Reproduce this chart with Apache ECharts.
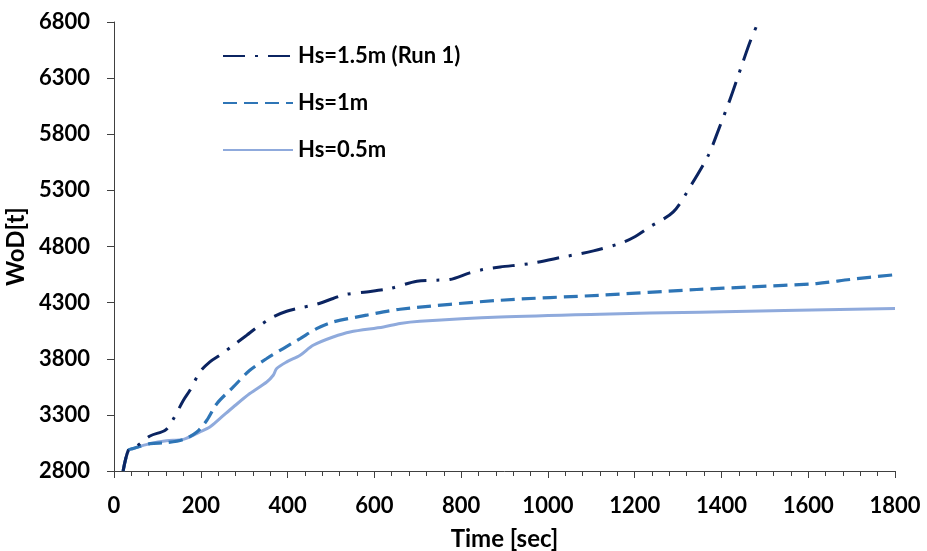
<!DOCTYPE html>
<html><head><meta charset="utf-8">
<script src="https://cdn.jsdelivr.net/npm/echarts@6/dist/echarts.min.js"></script>
<style>html,body{margin:0;padding:0;background:#fff}#c{width:927px;height:551px}</style>
</head><body><div id="c"></div>
<script>
const seriesNames = ['Hs=1.5m (Run 1)', 'Hs=1m', 'Hs=0.5m'];
const xTicks = [0, 200, 400, 600, 800, 1000, 1200, 1400, 1600, 1800];
const yTicks = [2800, 3300, 3800, 4300, 4800, 5300, 5800, 6300, 6800];

const timeRun1 = [21, 33, 44, 60, 83, 118, 133, 160, 175, 198, 221, 244, 275, 306, 329, 367, 398, 429, 467, 505, 532, 582, 636, 698, 744, 774, 820, 851, 890, 959, 1036, 1105, 1170, 1197, 1235, 1289, 1331, 1370, 1393, 1420, 1447, 1466, 1485];
const wodRun1  = [2800, 2984, 3000, 3044, 3112, 3163, 3237, 3430, 3519, 3682, 3772, 3831, 3920, 4010, 4078, 4173, 4223, 4253, 4286, 4337, 4372, 4395, 4425, 4491, 4500, 4506, 4565, 4595, 4618, 4648, 4707, 4761, 4832, 4880, 4975, 5108, 5352, 5614, 5837, 6113, 6415, 6624, 6800];

const timeHs1 = [21, 33, 44, 83, 121, 160, 191, 214, 237, 275, 313, 352, 390, 429, 467, 505, 582, 659, 890, 1120, 1343, 1466, 1619, 1696, 1800];
const wodHs1  = [2800, 2984, 3000, 3044, 3052, 3080, 3148, 3252, 3400, 3549, 3697, 3802, 3891, 3980, 4069, 4128, 4188, 4241, 4321, 4366, 4417, 4440, 4470, 4506, 4549];

const timeHs05 = [21, 33, 44, 83, 121, 160, 198, 221, 244, 275, 313, 352, 367, 375, 398, 429, 459, 505, 544, 621, 659, 705, 890, 1120, 1350, 1800];
const wodHs05  = [2800, 2984, 3000, 3044, 3070, 3082, 3148, 3192, 3267, 3370, 3490, 3593, 3653, 3713, 3772, 3831, 3920, 3994, 4039, 4083, 4114, 4134, 4172, 4197, 4215, 4247];

const colors = ['#0B2461', '#2E75B6', '#8FAADC'];
const dashes = [[22, 10, 3, 10], [14, 7], 'solid'];
const widths = [3, 3.2, 3];

function pairs(xs, ys) { return xs.map((x, i) => [x, ys[i]]); }
const datasets = [pairs(timeRun1, wodRun1), pairs(timeHs1, wodHs1), pairs(timeHs05, wodHs05)];

const font = 'Lato, "Open Sans", sans-serif';
const plain = v => String(v);
const chart = echarts.init(document.getElementById('c'), null, {renderer: 'canvas'});
chart.setOption({
  animation: false,
  backgroundColor: '#fff',
  grid: {left: 114, right: 32, top: 22, bottom: 80, containLabel: false, outerBoundsMode: 'none'},
  legend: {
    orient: 'vertical', left: 217, top: 40, padding: 5,
    itemWidth: 70, itemHeight: 22, itemGap: 25,
    data: seriesNames,
    itemStyle: {opacity: 0},
    textStyle: {fontFamily: font, fontWeight: 'bold', fontSize: 22, color: '#000'}
  },
  xAxis: {
    type: 'value', min: 0, max: 1800, interval: 200,
    name: 'Time [sec]', nameLocation: 'middle', nameGap: 56,
    nameTextStyle: {fontFamily: font, fontWeight: 'bold', fontSize: 24, color: '#000'},
    axisLine: {show: true, lineStyle: {color: '#404040', width: 1}},
    axisTick: {show: true, length: 7, lineStyle: {color: '#404040'}},
    minorTick: {show: true, splitNumber: 5, length: 5, lineStyle: {color: '#404040'}},
    splitLine: {show: false},
    axisLabel: {margin: 24, formatter: plain, fontFamily: font, fontWeight: 'bold', fontSize: 22, color: '#000'}
  },
  yAxis: {
    type: 'value', min: 2800, max: 6800,
    name: 'WoD[t]', nameLocation: 'middle', nameGap: 86, nameRotate: 90,
    nameTextStyle: {fontFamily: font, fontWeight: 'bold', fontSize: 24, color: '#000'},
    axisLine: {show: true, lineStyle: {color: '#404040', width: 1}},
    axisTick: {show: true, length: 7, customValues: yTicks, lineStyle: {color: '#404040'}},
    splitLine: {show: false},
    axisLabel: {margin: 24, customValues: yTicks, formatter: plain, fontFamily: font, fontWeight: 'bold', fontSize: 22, color: '#000'}
  },
  series: seriesNames.map((n, i) => ({
    name: n, type: 'line', data: datasets[i], showSymbol: false, symbol: 'none',
    smooth: 0.3, clip: true, z: 3 - i,
    itemStyle: {color: colors[i]},
    lineStyle: {color: colors[i], width: widths[i], type: dashes[i], cap: 'butt'}
  }))
});
</script>
</body></html>
